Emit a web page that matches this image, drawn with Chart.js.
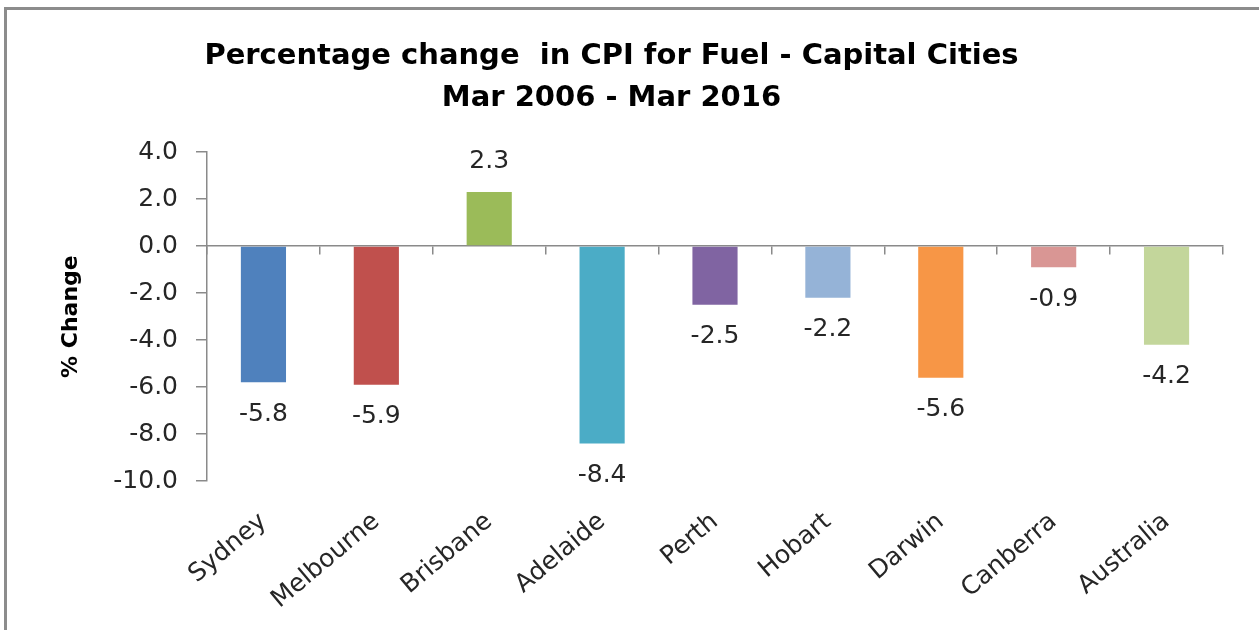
<!DOCTYPE html>
<html lang="en">
<head>
  <meta charset="UTF-8">
  <title>Percentage change in CPI for Fuel</title>
  <script src="https://cdn.jsdelivr.net/npm/chart.js@4"></script>
  <style>
    html, body { margin: 0; padding: 0; background: #fff; overflow: hidden; }
    .wrap { position: relative; width: 1259px; height: 630px; }
    .frame { position: absolute; left: 4px; top: 7px; width: 1300px; height: 700px;
             border: 3px solid #8c8c8c; pointer-events: none; }
  </style>
</head>
<body>
  <div class="wrap">
    <canvas id="cpi-chart" width="1259" height="630"></canvas>
    <div class="frame"></div>
  </div>
  <script>
    // data
    const cities = ['Sydney', 'Melbourne', 'Brisbane', 'Adelaide', 'Perth', 'Hobart', 'Darwin', 'Canberra', 'Australia'];
    const changes = [-5.8, -5.9, 2.3, -8.4, -2.5, -2.2, -5.6, -0.9, -4.2];
    const barColours = ['#4f81bd', '#c0504d', '#9bbb59', '#4bacc6', '#8064a2', '#95b3d7', '#f79646', '#d99694', '#c3d69b'];
    const titleLines = ['Percentage change  in CPI for Fuel - Capital Cities', 'Mar 2006 - Mar 2016'];

    Chart.defaults.font.family = '"DejaVu Sans", sans-serif';
    Chart.defaults.color = '#262626';

    // value above / below each bar
    const valueLabels = {
      id: 'valueLabels',
      afterDatasetsDraw(chart) {
        const ctx = chart.ctx;
        const meta = chart.getDatasetMeta(0);
        ctx.save();
        ctx.font = '25px "DejaVu Sans"';
        ctx.fillStyle = '#262626';
        ctx.textAlign = 'center';
        ctx.textBaseline = 'middle';
        meta.data.forEach((bar, i) => {
          const v = changes[i];
          const y = v < 0 ? bar.y + 32 : bar.y - 31;
          ctx.fillText(v.toFixed(1), bar.x, y);
        });
        ctx.restore();
      }
    };

    const ctx = document.getElementById('cpi-chart').getContext('2d');
    new Chart(ctx, {
      type: 'bar',
      data: {
        labels: cities,
        datasets: [{
          label: '% Change',
          data: changes,
          backgroundColor: barColours,
          borderWidth: 0,
          barPercentage: 0.4,
          categoryPercentage: 1
        }]
      },
      options: {
        responsive: false,
        animation: false,
        layout: { padding: { left: 0, right: 36, top: 0, bottom: 0 } },
        plugins: {
          legend: { display: false },
          tooltip: { enabled: false },
          title: {
            display: true,
            text: titleLines,
            color: '#000',
            font: { size: 29, weight: 'bold', lineHeight: 1.45 },
            padding: { top: 35, bottom: 33 }
          }
        },
        scales: {
          x: {
            grid: { display: false, drawTicks: false },
            border: { display: false },
            ticks: { minRotation: 40, maxRotation: 40, padding: 26, font: { size: 25 }, color: '#262626' },
            afterFit(scale) { scale.height = 149; }
          },
          // axis line with boundary ticks sitting on zero
          x2: {
            type: 'category',
            position: { y: 0 },
            offset: true,
            grid: { offset: true, drawOnChartArea: false, tickLength: 8, color: '#8a8a8a', lineWidth: 1.5 },
            border: { display: true, color: '#8a8a8a', width: 1.5 },
            ticks: { display: false }
          },
          y: {
            min: -10,
            max: 4,
            ticks: {
              stepSize: 2,
              padding: 18,
              font: { size: 25 },
              color: '#262626',
              callback: v => v.toFixed(1)
            },
            grid: { drawOnChartArea: false, tickLength: 11, color: '#8a8a8a', lineWidth: 1.5 },
            border: { color: '#8a8a8a', width: 1.5 },
            title: {
              display: true,
              text: '% Change',
              color: '#000',
              font: { size: 22, weight: 'bold' },
              padding: { top: 58, bottom: 0 }
            },
            afterFit(scale) { scale.width = 207; }
          }
        }
      },
      plugins: [valueLabels]
    });
  </script>
</body>
</html>
